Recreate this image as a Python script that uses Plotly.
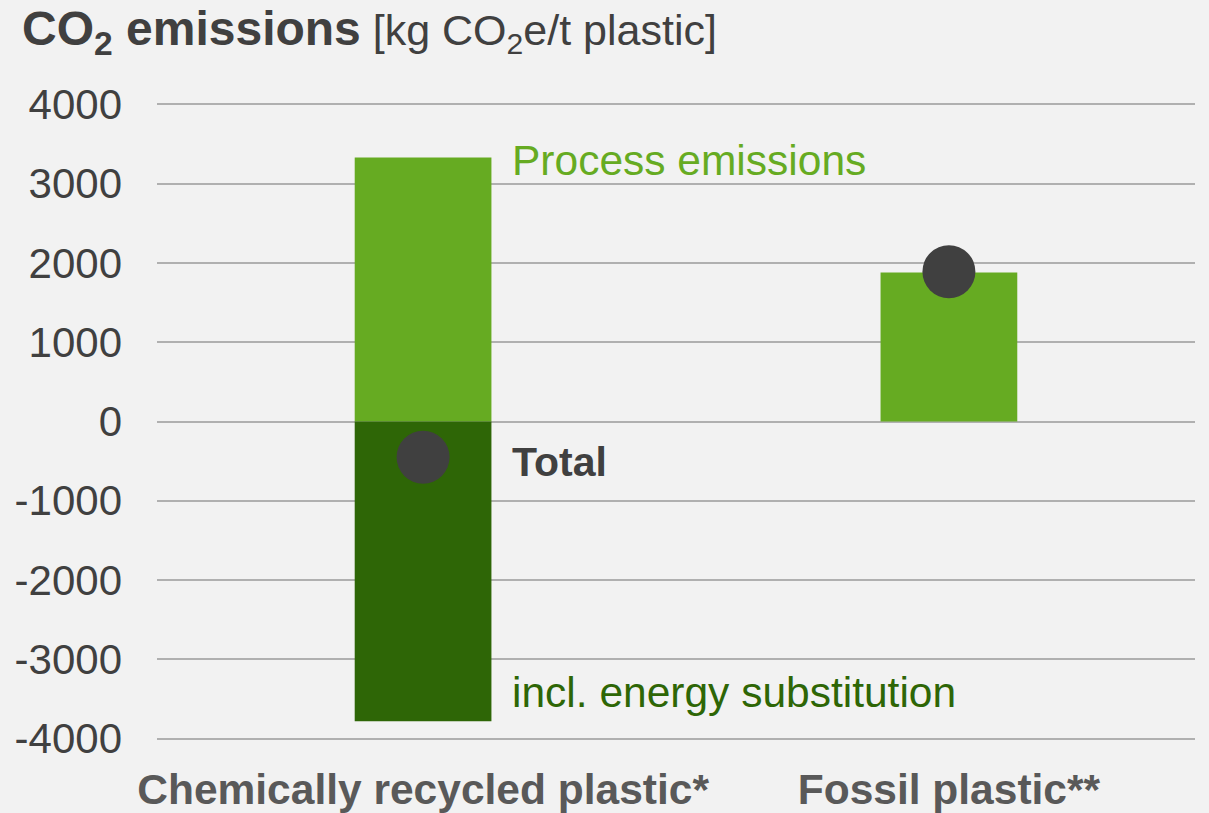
import plotly.graph_objects as go

categories = ["Chemically recycled plastic*", "Fossil plastic**"]
process_emissions = [3330, 1880]
energy_substitution = [-3780, None]
total = [-450, 1890]
y_ticks = [4000, 3000, 2000, 1000, 0, -1000, -2000, -3000, -4000]
y_tick_labels = ["4000", "3000", "2000", "1000", "0", "-1000", "-2000", "-3000", "-4000"]

x_pos = list(range(len(categories)))

LIGHT = "#66AB22"
DARK = "#2E6606"
GREY = "#404040"

fig = go.Figure()
fig.add_trace(go.Bar(x=x_pos, y=process_emissions, width=0.26, marker=dict(color=LIGHT, line=dict(width=0)),
                     name="Process emissions"))
fig.add_trace(go.Bar(x=x_pos, y=energy_substitution, width=0.26, marker=dict(color=DARK, line=dict(width=0)),
                     name="incl. energy substitution"))
fig.add_trace(go.Scatter(x=x_pos, y=total, mode="markers",
                         marker=dict(size=53, color=GREY, line=dict(width=0)), name="Total"))

font_family = "Liberation Sans, Arial, sans-serif"
annots = [
    dict(x=0.165, y=3290, text="Process emissions", color=LIGHT, size=42.5),
    dict(x=0.165, y=-515, text="<b>Total</b>", color=GREY, size=41),
    dict(x=0.165, y=-3420, text="incl. energy substitution", color=DARK, size=42.5),
]
for a in annots:
    fig.add_annotation(x=a["x"], y=a["y"], xref="x", yref="y", text=a["text"], showarrow=False,
                       xanchor="left", yanchor="middle",
                       font=dict(family=font_family, size=a["size"], color=a["color"]))

fig.update_layout(
    width=1209, height=813,
    paper_bgcolor="#F2F2F2", plot_bgcolor="#F2F2F2",
    barmode="relative",
    showlegend=False,
    margin=dict(l=157, r=14, t=102, b=72, autoexpand=False),
    font=dict(family=font_family, color=GREY),
    title=dict(text="<b><span style='font-size:48px'>CO<sub>2</sub> emissions</span></b> [kg CO<sub>2</sub>e/t plastic]",
               x=22/1209, xref="container", xanchor="left",
               y=1 - 30/813, yref="container", yanchor="middle",
               font=dict(family=font_family, size=43, color=GREY)),
    xaxis=dict(range=[-0.506, 1.468], tickvals=x_pos, ticktext=categories, showgrid=False,
               zeroline=False, showline=False, ticks="", automargin=False,
               tickfont=dict(family=font_family, size=42.5, color="#595959", weight="bold"),
               ticklabelstandoff=19),
    yaxis=dict(range=[-4030, 4030], tickvals=y_ticks, ticktext=y_tick_labels, showgrid=True,
               gridcolor="#B0B0B0", gridwidth=2, zeroline=False, showline=False, ticks="",
               automargin=False,
               tickfont=dict(family=font_family, size=42, color=GREY),
               ticklabelstandoff=34),
)

fig.write_html(
    "out.html",
    config={"displayModeBar": False},
    post_script="document.body.style.margin='0';document.body.style.background='#F2F2F2';"
                "document.documentElement.style.overflow='hidden';",
)
